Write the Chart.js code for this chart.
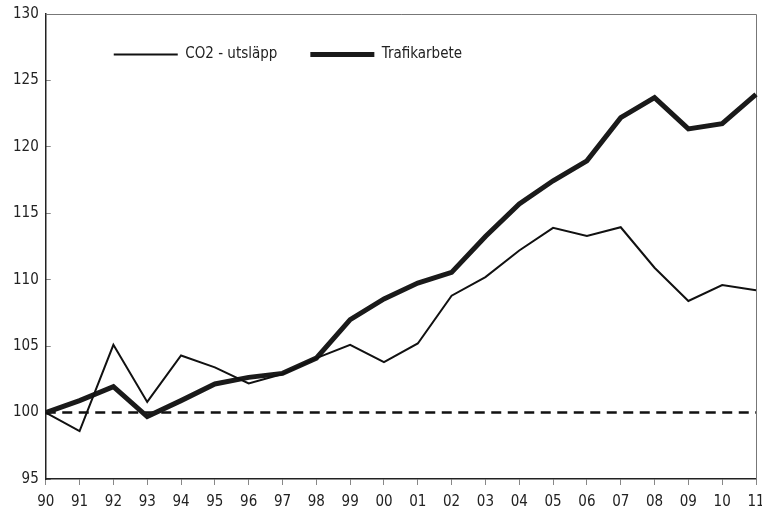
<!DOCTYPE html>
<html>
<head>
<meta charset="utf-8">
<script src="https://cdn.jsdelivr.net/npm/chart.js@4.4.1/dist/chart.umd.min.js"></script>
<style>
  html, body { margin: 0; padding: 0; background: #fff; }
  #wrap { width: 762px; height: 508px; }
</style>
</head>
<body>
<div id="wrap"><canvas id="c" width="762" height="508"></canvas></div>
<script>
const categories = ['90','91','92','93','94','95','96','97','98','99','00','01','02','03','04','05','06','07','08','09','10','11'];
const co2Utslapp = [100, 98.6, 105.1, 100.8, 104.3, 103.4, 102.2, 102.9, 104.1, 105.1, 103.8, 105.2, 108.8, 110.2, 112.2, 113.9, 113.3, 113.95, 110.9, 108.4, 109.6, 109.2];
const trafikarbete = [100, 100.9, 101.95, 99.7, 100.9, 102.15, 102.65, 102.95, 104.1, 107.0, 108.55, 109.75, 110.55, 113.25, 115.7, 117.45, 118.95, 122.2, 123.7, 121.35, 121.75, 123.95];
const baseline = [100, 100, 100, 100, 100, 100, 100, 100, 100, 100, 100, 100, 100, 100, 100, 100, 100, 100, 100, 100, 100, 100];
const yMin = 95, yMax = 130, yStep = 5;

const FONT = '"DejaVu Sans Condensed", "Liberation Sans Narrow", sans-serif';

const frame = {
  id: 'frame',
  afterInit(chart) {
    if (chart.legend) chart.legend.isHorizontal = () => true;
  },
  afterLayout(chart) {
    const lg = chart.legend, a = chart.chartArea;
    if (!lg) return;
    const w = lg.width, h = lg.height;
    lg.left = a.left + 35;
    lg.right = lg.left + w;
    lg.top = a.top;
    lg.bottom = lg.top + h;
  },
  beforeDatasetsDraw(chart) {
    const {ctx, chartArea: a} = chart;
    ctx.save();
    ctx.strokeStyle = '#777';
    ctx.lineWidth = 1;
    ctx.beginPath();
    ctx.moveTo(a.left, a.top + 0.5);
    ctx.lineTo(a.right + 0.5, a.top + 0.5);
    ctx.lineTo(a.right + 0.5, a.bottom);
    ctx.stroke();
    ctx.restore();
  }
};

new Chart(document.getElementById('c'), {
  type: 'line',
  data: {
    labels: categories,
    datasets: [
      { label: 'CO2 - utsläpp', data: co2Utslapp, borderColor: '#111', borderWidth: 2, pointRadius: 0, tension: 0, fill: false },
      { label: 'Trafikarbete', data: trafikarbete, borderColor: '#1a1a1a', borderWidth: 5, pointRadius: 0, tension: 0, fill: false },
      { label: 'base', data: baseline, borderColor: '#111', borderWidth: 2.5, borderDash: [10, 6.5], pointRadius: 0, fill: false }
    ]
  },
  options: {
    responsive: false,
    animation: false,
    layout: { padding: { left: 1, right: 6, top: 14, bottom: -11 } },
    plugins: {
      tooltip: { enabled: false },
      legend: {
        position: 'chartArea',
        align: 'start',
        labels: {
          filter: (item) => item.text !== 'base',
          usePointStyle: true,
          pointStyle: 'line',
          pointStyleWidth: 64,
          padding: 33,
          color: '#222',
          font: { family: FONT, size: 15 }
        }
      }
    },
    scales: {
      x: {
        type: 'category',
        offset: false,
        afterFit: (s) => { s.paddingRight = 0; },
        grid: { drawOnChartArea: false, drawTicks: true, tickLength: 6, tickColor: '#888' },
        border: { color: '#222', width: 1.5 },
        ticks: { color: '#222', font: { family: FONT, size: 15 }, padding: 8, maxRotation: 0, autoSkip: false }
      },
      y: {
        min: yMin, max: yMax,
        afterFit: (s) => { s.paddingTop = 0; },
        grid: { drawOnChartArea: false, drawTicks: true, tickLength: -5, tickColor: '#888' },
        border: { color: '#222', width: 1.5 },
        ticks: { stepSize: yStep, color: '#222', font: { family: FONT, size: 15 }, padding: 12 }
      }
    }
  },
  plugins: [frame]
});
</script>
</body>
</html>
